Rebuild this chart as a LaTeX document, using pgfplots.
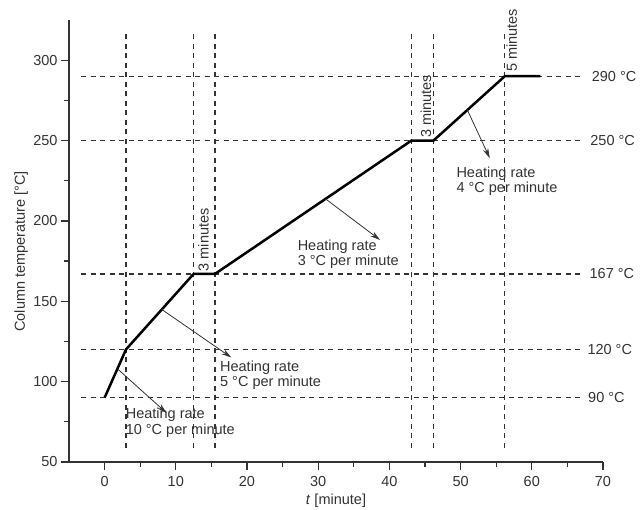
\documentclass[border=0pt]{standalone}
\usepackage{fontspec}
\setmainfont{Liberation Sans}
\usepackage{pgfplots}
\pgfplotsset{compat=1.18}
\usetikzlibrary{arrows.meta}
\definecolor{ink}{gray}{0.2}
\begin{document}
\begin{tikzpicture}[font=\fontsize{14.5}{17}\selectfont]
\useasboundingbox (-69pt,-48pt) rectangle (574pt,462pt);
\begin{axis}[
  scale only axis, width=534pt, height=442pt,
  xmin=-5, xmax=70, ymin=50, ymax=325,
  axis x line*=bottom, axis y line*=left,
  axis line style={line width=1.2pt, ink, -},
  xtick={0,10,...,70}, ytick={50,100,...,300},
  minor x tick num=1, minor y tick num=1,
  tick align=outside, major tick length=8pt, minor tick length=5pt,
  every tick/.style={line width=1.2pt, ink},
  /pgf/number format/assume math mode=true,
  ticklabel style={font=\fontsize{14.5}{17}\selectfont, text=ink},
  xticklabel style={yshift=-3pt},
  clip=false,
  dashline/.style={ink, line width=1.4pt, dash pattern=on 5pt off 4.5pt},
]
% horizontal reference lines
\addplot[dashline] coordinates {(-3.3,290) (67.2,290)};
\addplot[dashline] coordinates {(-3.3,250) (67.2,250)};
\addplot[dashline] coordinates {(-3.3,167) (67.2,167)};
\addplot[dashline] coordinates {(-3.3,120) (67.2,120)};
\addplot[dashline] coordinates {(-3.3,90) (67.2,90)};
% vertical reference lines
\addplot[dashline] coordinates {(3,59) (3,316)};
\addplot[dashline] coordinates {(12.5,59) (12.5,316)};
\addplot[dashline] coordinates {(15.5,59) (15.5,316)};
\addplot[dashline] coordinates {(43.1,59) (43.1,316)};
\addplot[dashline] coordinates {(46.2,59) (46.2,316)};
\addplot[dashline] coordinates {(56.2,59) (56.2,316)};
% temperature program
\addplot[black, line width=2.5pt, line join=round] coordinates {
  (0,90) (3,120) (12.5,167) (15.5,167) (43.1,250) (46.2,250) (56.2,290) (61.2,290)};
% right labels
\node[anchor=west, inner sep=0, text=ink] at (axis cs:68.4,290) {290 °C};
\node[anchor=west, inner sep=0, text=ink] at (axis cs:68.2,250) {250 °C};
\node[anchor=west, inner sep=0, text=ink] at (axis cs:68.1,167) {167 °C};
\node[anchor=west, inner sep=0, text=ink] at (axis cs:67.8,120) {120 °C};
\node[anchor=west, inner sep=0, text=ink] at (axis cs:67.9,90) {90 °C};
% hold labels
\node[rotate=90, anchor=base west, inner sep=0, text=ink] at (axis cs:14.6,168.5) {3 minutes};
\node[rotate=90, anchor=base west, inner sep=0, text=ink] at (axis cs:45.85,251.6) {3 minutes};
\node[rotate=90, anchor=base west, inner sep=0, text=ink] at (axis cs:57.9,292.7) {5 minutes};
% heating rate annotations
\draw[ink, line width=0.8pt, -{Stealth[length=10pt,width=5.5pt]}] (axis cs:1.8,108) -- (axis cs:8.7,80.5);
\node[anchor=base west, inner sep=0, text=ink] at (axis cs:2.95,76.9) {Heating rate};
\node[anchor=base west, inner sep=0, text=ink] at (axis cs:2.95,67.3) {10 °C per minute};
\draw[ink, line width=0.8pt, -{Stealth[length=10pt,width=5.5pt]}] (axis cs:8.0,145) -- (axis cs:17.8,115);
\node[anchor=base west, inner sep=0, text=ink] at (axis cs:16.2,106.4) {Heating rate};
\node[anchor=base west, inner sep=0, text=ink] at (axis cs:16.2,96.7) {5 °C per minute};
\draw[ink, line width=0.8pt, -{Stealth[length=10pt,width=5.5pt]}] (axis cs:31.0,213.8) -- (axis cs:38.7,188.1);
\node[anchor=base west, inner sep=0, text=ink] at (axis cs:27.1,181.7) {Heating rate};
\node[anchor=base west, inner sep=0, text=ink] at (axis cs:27.1,172.2) {3 °C per minute};
\draw[ink, line width=0.8pt, -{Stealth[length=10pt,width=5.5pt]}] (axis cs:50.9,269.5) -- (axis cs:54.1,239);
\node[anchor=base west, inner sep=0, text=ink] at (axis cs:49.4,227.3) {Heating rate};
\node[anchor=base west, inner sep=0, text=ink] at (axis cs:49.4,217.7) {4 °C per minute};
% axis labels
\node[anchor=base, text=ink] at ([yshift=-43pt]rel axis cs:0.5,0) {\textit{t} [minute]};
\node[rotate=90, anchor=base, text=ink] at ([xshift=-44pt]axis cs:-5,181) {Column temperature [°C]};
\end{axis}
\end{tikzpicture}
\end{document}
